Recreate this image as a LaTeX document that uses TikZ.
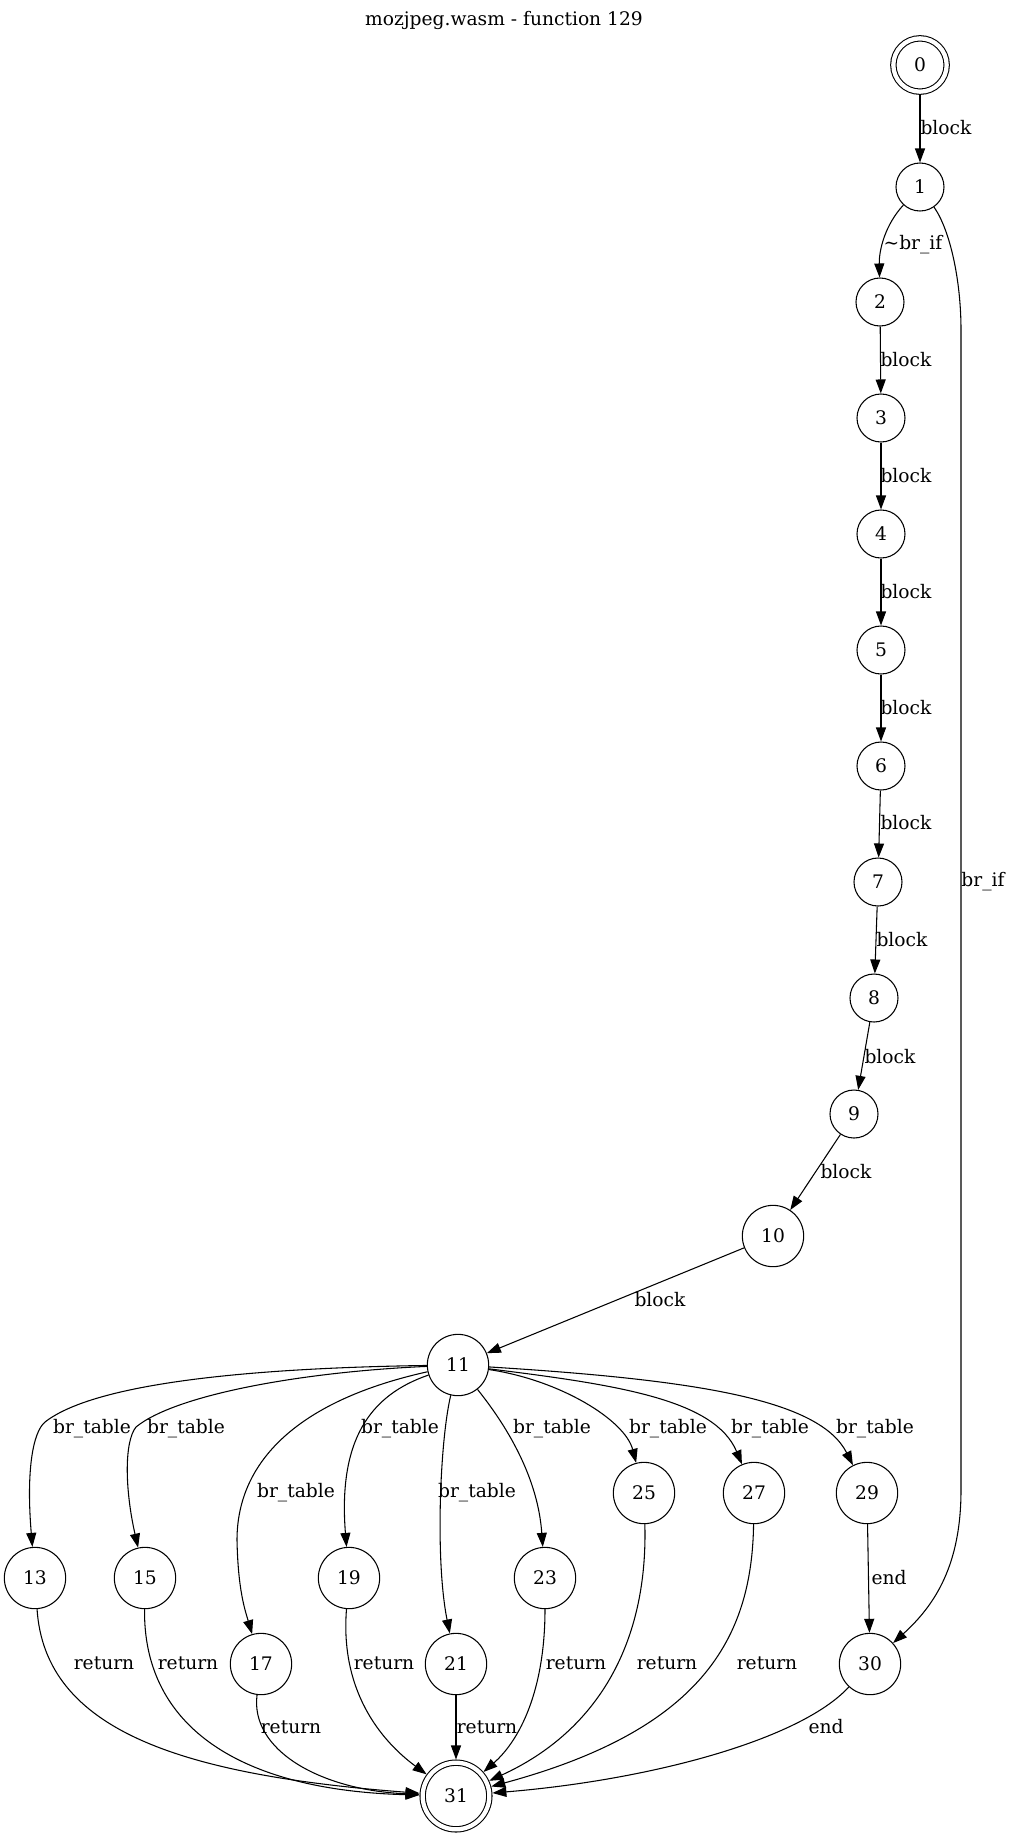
\documentclass[tikz,border=0pt]{standalone}
\usepackage{fontspec}
\setmainfont{DejaVu Serif}
\usetikzlibrary{arrows.meta}

\begin{document}
\begin{tikzpicture}[
  x=0.75pt,y=-0.75pt,
  font=\fontsize{14}{16}\selectfont,
  st/.style={circle,draw,line width=0.8pt,inner sep=0pt,minimum size=36pt},
  stw/.style={st,minimum size=46pt},
  fin/.style={circle,draw,line width=0.8pt,double,double distance=3.2pt,inner sep=0pt,outer sep=2.4pt,minimum size=40pt},
  lbl/.style={inner sep=0pt},
  >={Triangle[length=10.5pt,width=7.5pt]},edge/.style={->,line width=0.8pt}
]
\useasboundingbox (0,0) rectangle (1010,1839);
\node (title) at (504,20) {mozjpeg.wasm - function 129};

\node[fin] (n0) at (920,65) {0};
\node[st] (n1) at (920,187) {1};
\node[st] (n2) at (880,302) {2};
\node[st] (n3) at (881,418) {3};
\node[st] (n4) at (881,534) {4};
\node[st] (n5) at (881,650) {5};
\node[st] (n6) at (881,766) {6};
\node[st] (n7) at (878,882) {7};
\node[st] (n8) at (874,998) {8};
\node[st] (n9) at (854,1114) {9};
\node[stw] (n10) at (773,1236) {10};
\node[stw] (n11) at (458,1365) {11};
\node[stw] (n13) at (35,1578) {13};
\node[stw] (n15) at (145,1578) {15};
\node[stw] (n17) at (261,1664) {17};
\node[stw] (n19) at (349,1578) {19};
\node[stw] (n21) at (456,1664) {21};
\node[stw] (n23) at (545,1578) {23};
\node[stw] (n25) at (644,1493) {25};
\node[stw] (n27) at (754,1493) {27};
\node[stw] (n29) at (867,1493) {29};
\node[stw] (n30) at (870,1664) {30};
\node[fin,minimum size=50pt] (n31) at (456,1796) {31};

% main chain
\draw[edge] (n0) -- (n1) node[lbl] (b0) at (946,128) {block};
\draw[edge] (n1) .. controls (885,225) and (879,250) .. (n2) node[lbl] (b1) at (913,245) {\textasciitilde br\_if};
\draw[edge] (n1) .. controls (950,230) and (961,280) .. (961,330) -- (961,1490) .. controls (961,1565) and (935,1605) .. (n30) node[lbl] (b2) at (983,882) {br\_if};
\draw[edge] (n2) -- (n3) node[lbl] (b3) at (906,360) {block};
\draw[edge] (n3) -- (n4) node[lbl] (b4) at (906,476) {block};
\draw[edge] (n4) -- (n5) node[lbl] (b5) at (906,592) {block};
\draw[edge] (n5) -- (n6) node[lbl] (b6) at (906,708) {block};
\draw[edge] (n6) -- (n7) node[lbl] (b7) at (906,823) {block};
\draw[edge] (n7) -- (n8) node[lbl] (b8) at (902,940) {block};
\draw[edge] (n8) -- (n9) node[lbl] (b9) at (890,1057) {block};
\draw[edge] (n9) -- (n10) node[lbl] (b10) at (846,1172) {block};
\draw[edge] (n10) -- (n11) node[lbl] (b11) at (660,1300) {block};

% br_table fan
\draw[edge] (n11) .. controls (250,1368) and (95,1383) .. (45,1422) .. controls (33,1432) and (26,1470) .. (n13) node[lbl] (t13) at (92,1429) {br\_table};
\draw[edge] (n11) .. controls (300,1372) and (175,1395) .. (136,1427) .. controls (124,1442) and (125,1490) .. (n15) node[lbl] (t15) at (186,1429) {br\_table};
\draw[edge] (n11) .. controls (300,1400) and (237,1460) .. (237,1540) .. controls (238,1590) and (245,1610) .. (n17) node[lbl] (t17) at (296,1493) {br\_table};
\draw[edge] (n11) .. controls (370,1395) and (338,1440) .. (n19) node[lbl] (t19) at (400,1429) {br\_table};
\draw[edge] (n11) .. controls (440,1440) and (435,1560) .. (n21) node[lbl] (t21) at (477,1493) {br\_table};
\draw[edge] (n11) .. controls (510,1430) and (538,1480) .. (n23) node[lbl] (t23) at (552,1429) {br\_table};
\draw[edge] (n11) .. controls (560,1380) and (625,1420) .. (n25) node[lbl] (t25) at (668,1429) {br\_table};
\draw[edge] (n11) .. controls (620,1385) and (715,1400) .. (n27) node[lbl] (t27) at (770,1429) {br\_table};
\draw[edge] (n11) .. controls (700,1380) and (820,1400) .. (n29) node[lbl] (t29) at (875,1429) {br\_table};
\draw[edge] (n29) -- (n30) node[lbl] (e29) at (889,1578) {end};

% into the exit
\draw[edge] (n13) .. controls (45,1730) and (180,1775) .. (n31) node[lbl] (r13) at (104,1663) {return};
\draw[edge] (n15) .. controls (143,1720) and (230,1790) .. (n31) node[lbl] (r15) at (188,1663) {return};
\draw[edge] (n17) .. controls (250,1750) and (320,1790) .. (n31) node[lbl] (r17) at (291,1727) {return};
\draw[edge] (n19) .. controls (340,1690) and (380,1740) .. (n31) node[lbl] (r19) at (384,1663) {return};
\draw[edge] (n21) -- (n31) node[lbl] (r21) at (487,1727) {return};
\draw[edge] (n23) .. controls (545,1690) and (520,1740) .. (n31) node[lbl] (r23) at (576,1663) {return};
\draw[edge] (n25) .. controls (648,1640) and (600,1730) .. (n31) node[lbl] (r25) at (667,1663) {return};
\draw[edge] (n27) .. controls (752,1640) and (700,1730) .. (n31) node[lbl] (r27) at (767,1663) {return};
\draw[edge] (n30) .. controls (800,1740) and (650,1780) .. (n31) node[lbl] (e30) at (826,1727) {end};
\end{tikzpicture}
\end{document}
